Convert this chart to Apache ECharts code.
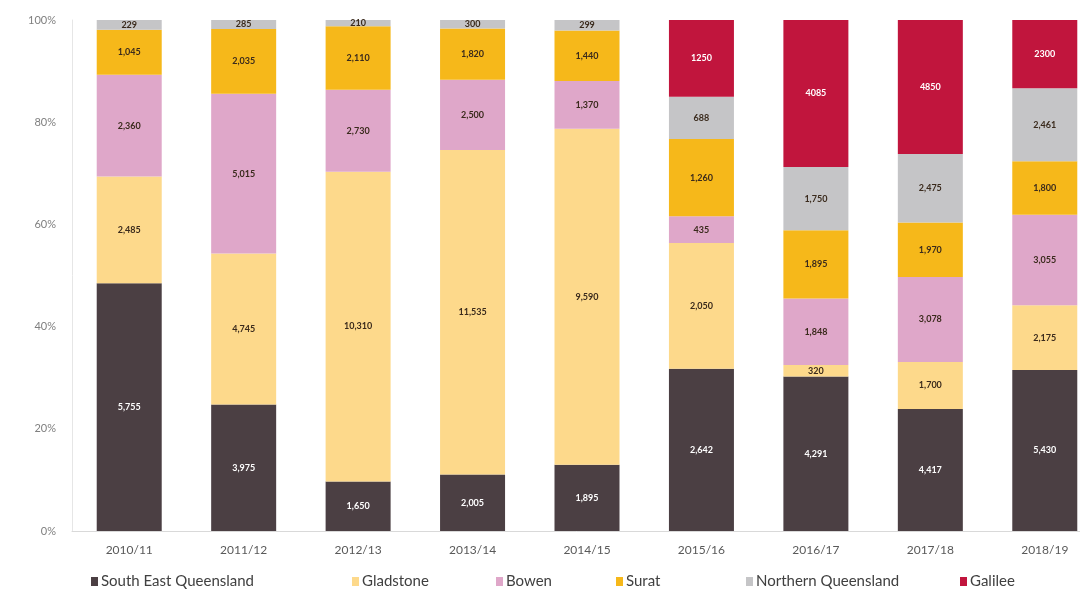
<!DOCTYPE html>
<html>
<head>
<meta charset="utf-8">
<script src="https://cdn.jsdelivr.net/npm/echarts@6/dist/echarts.min.js"></script>
<style>
  html, body { margin: 0; padding: 0; background: #fff; }
  #chart { width: 1080px; height: 589px; }
</style>
</head>
<body>
<div id="chart"></div>
<script>
// Financial years
const years = ['2010/11', '2011/12', '2012/13', '2013/14', '2014/15', '2015/16', '2016/17', '2017/18', '2018/19'];

// Values by region (null = no value that year)
const southEastQueensland = [5755, 3975, 1650, 2005, 1895, 2642, 4291, 4417, 5430];
const gladstone           = [2485, 4745, 10310, 11535, 9590, 2050, 320, 1700, 2175];
const bowen               = [2360, 5015, 2730, 2500, 1370, 435, 1848, 3078, 3055];
const surat               = [1045, 2035, 2110, 1820, 1440, 1260, 1895, 1970, 1800];
const northernQueensland  = [229, 285, 210, 300, 299, 688, 1750, 2475, 2461];
const galilee             = [null, null, null, null, null, 1250, 4085, 4850, 2300];

const yTicks = [0, 20, 40, 60, 80, 100];

const regions = [
  { name: 'South East Queensland', values: southEastQueensland, color: '#4b3f43', text: '#ffffff', comma: true },
  { name: 'Gladstone',             values: gladstone,           color: '#fdd98b', text: '#3a2a1c', comma: true },
  { name: 'Bowen',                 values: bowen,               color: '#dfa7c9', text: '#3a2a1c', comma: true },
  { name: 'Surat',                 values: surat,               color: '#f6b81a', text: '#3a2a1c', comma: true },
  { name: 'Northern Queensland',   values: northernQueensland,  color: '#c5c5c7', text: '#3a2a1c', comma: true },
  { name: 'Galilee',               values: galilee,             color: '#c1153d', text: '#ffffff', comma: false }
];

// Column totals, used to express each segment as a share of 100%
const totals = years.map((_, i) => regions.reduce((s, r) => s + (r.values[i] || 0), 0));

const fmt = (v, comma) => comma ? v.toLocaleString('en-US') : String(v);

const series = regions.map(r => ({
  name: r.name,
  type: 'bar',
  stack: 'share',
  barWidth: 65,
  itemStyle: { color: r.color },
  emphasis: { disabled: true },
  data: r.values.map((v, i) => ({
    value: v == null ? null : v / totals[i] * 100,
    raw: v
  })),
  label: {
    show: true,
    position: 'inside',
    color: r.text,
    fontFamily: 'Lato',
    fontWeight: 'bold',
    fontSize: 9,
    formatter: p => p.data.raw == null ? '' : fmt(p.data.raw, r.comma)
  }
}));

// One legend block per region so each entry sits at its own spot
const legendLeft = [86, 347, 491, 611, 741, 955];
const legends = regions.map((r, i) => ({
  data: [r.name],
  left: legendLeft[i],
  top: 569,
  icon: 'rect',
  itemWidth: 7,
  itemHeight: 9,
  itemGap: 0,
  textStyle: { color: '#404040', fontSize: 15, fontFamily: 'Lato', padding: [0, 0, 0, -2] },
  selectedMode: false
}));

const chart = echarts.init(document.getElementById('chart'));
chart.setOption({
  animation: false,
  backgroundColor: '#ffffff',
  grid: { left: 72, top: 20, width: 1030, height: 511, outerBoundsMode: 'none' },
  legend: legends,
  xAxis: {
    type: 'category',
    data: years,
    axisLine: { lineStyle: { color: '#d9d9d9' } },
    axisTick: { show: false },
    axisLabel: { color: '#595959', fontSize: 12, fontFamily: 'Lato', margin: 13 }
  },
  yAxis: {
    type: 'value',
    min: yTicks[0],
    max: yTicks[yTicks.length - 1],
    interval: 20,
    axisLine: { show: true, lineStyle: { color: '#e6e6e6' } },
    axisTick: { show: false },
    splitLine: { show: false },
    axisLabel: { color: '#7f7f7f', fontSize: 11, fontFamily: 'Lato', margin: 16, formatter: '{value}%' }
  },
  series: series
});
</script>
</body>
</html>
